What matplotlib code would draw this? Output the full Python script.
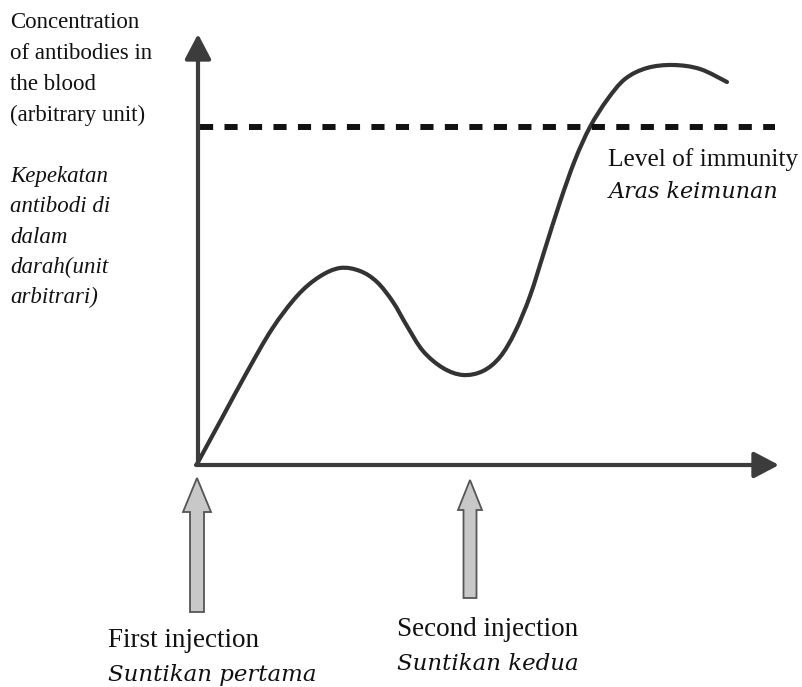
import matplotlib
matplotlib.use("Agg")
import matplotlib.pyplot as plt
import numpy as np
from matplotlib.patches import FancyArrow, PathPatch
from matplotlib.path import Path

# ---- data (arbitrary units: time after first injection, antibody concentration) ----
time_pts = [0, 25, 50, 75, 100, 122, 143, 163, 180, 196, 210, 226, 246, 266,
            286, 303, 318, 333, 348, 363, 378, 393, 410, 428, 450, 476, 503, 530]
conc_pts = [0, 46, 92, 135, 168, 187, 196, 193, 182, 162, 138, 113, 96, 89,
            93, 107, 132, 168, 215, 262, 304, 337, 364, 385, 396, 399, 395, 382]
immunity_level = 337
injection_times = [0, 273]
injection_labels = [("First injection", "Suntikan pertama"),
                    ("Second injection", "Suntikan kedua")]
ylabel_en = ["Concentration", "of antibodies in", "the blood", "(arbitrary unit)"]
ylabel_ms = ["Kepekatan", "antibodi di", "dalam", "darah(unit", "arbitrari)"]
level_labels = ("Level of immunity", "Aras keimunan")

W, H = 802, 687
fig = plt.figure(figsize=(W / 100, H / 100), dpi=100)
fig.patch.set_facecolor("white")

# axes: origin at pixel (197, 464); 1 data unit = 1 pixel
x0, y0 = 197, 464
ax = fig.add_axes([x0 / W, (H - y0) / H, 583 / W, 434 / H])
ax.set_xlim(0, 583)
ax.set_ylim(0, 434)
ax.axis("off")

axis_col = "#3c3c3c"
arrow_kw = dict(arrowstyle="-|>,head_width=0.42,head_length=0.8",
                lw=3.0, color=axis_col, mutation_scale=19, shrinkA=0, shrinkB=0)
ax.annotate("", xy=(1, 430), xytext=(1, -1), arrowprops=arrow_kw,
            annotation_clip=False)
ax.annotate("", xy=(582, -1), xytext=(-1, -1), arrowprops=arrow_kw,
            annotation_clip=False)

# immunity level dashed line
ax.plot([3, 578], [immunity_level, immunity_level], color="#111111", lw=4.3,
        dashes=(2.2, 1.9), solid_capstyle="butt", clip_on=False)

# antibody curve: smooth Bezier path through the read points
P = np.column_stack([time_pts, conc_pts]).astype(float)
verts = [P[0]]
codes = [Path.MOVETO]
n = len(P)
for i in range(n - 1):
    p0 = P[i - 1] if i > 0 else P[i]
    p1, p2 = P[i], P[i + 1]
    p3 = P[i + 2] if i + 2 < n else P[i + 1]
    verts += [p1 + (p2 - p0) / 6.0, p2 - (p3 - p1) / 6.0, p2]
    codes += [Path.CURVE4] * 3
ax.add_patch(PathPatch(Path(verts, codes), fill=False, ec="#333333", lw=3.0,
                       capstyle="round", joinstyle="round", clip_on=False))

# injection arrows (below the x axis)
arrow_specs = [  # (tip, bottom, shaft width, head width, head length)
    (-14, -148, 14, 28, 34),
    (-16, -134, 13, 24, 30),
]
for t, (tip, bot, sw, hw, hl) in zip(injection_times, arrow_specs):
    ax.add_patch(FancyArrow(t, bot, 0, tip - bot, width=sw, head_width=hw,
                            head_length=hl, length_includes_head=True,
                            fc="#c8c8c8", ec="#555555", lw=1.3, clip_on=False))

def ftext(px, py, s, family="Liberation Serif", **kw):
    fig.text(px / W, 1 - py / H, s, va="baseline", ha="left",
             family=family, color="#111111", **kw)

# y-axis label blocks
for i, s in enumerate(ylabel_en):
    ftext(10, 28 + 31 * i, s, fontsize=16.5)
for i, s in enumerate(ylabel_ms):
    ftext(10, 182 + 30.3 * i, s, fontsize=16.5, style="italic")

# level of immunity
ftext(608, 166, level_labels[0], fontsize=18.3)
ftext(609, 198, level_labels[1], family="DejaVu Serif", fontsize=16,
      style="italic")

# injection labels
label_pos = [(108, 647), (397, 636)]
for (lx, ly), (en, ms) in zip(label_pos, injection_labels):
    ftext(lx, ly, en, fontsize=19.5)
    ftext(lx, ly + 34, ms, family="DejaVu Serif", fontsize=16.5, style="italic")

fig.savefig("out.png", dpi=100, facecolor="white")
